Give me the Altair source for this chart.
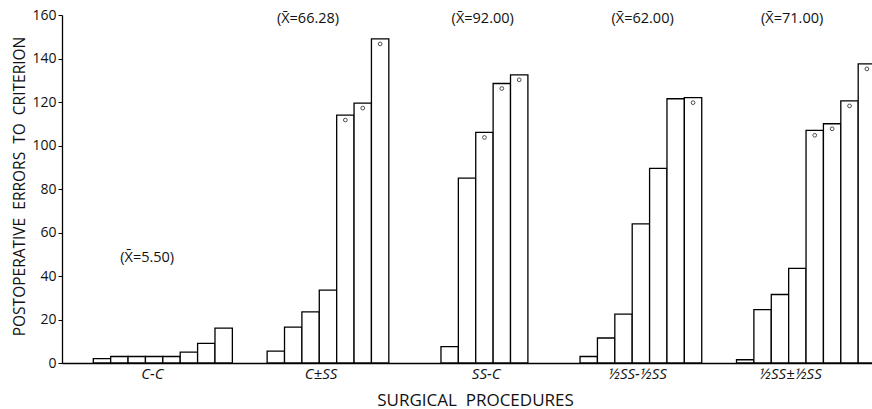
import altair as alt
import pandas as pd

# ---------------- data ----------------
groups = ["C-C", "C±SS", "SS-C", "½SS-½SS", "½SS±½SS"]
values = [
    [2, 3, 3, 3, 3, 5, 9, 16],
    [5.5, 16.5, 23.5, 33.5, 114, 119.5, 149],
    [7.5, 85, 106, 128.5, 132.5],
    [3, 11.5, 22.5, 64, 89.5, 121.5, 122],
    [1.5, 24.5, 31.5, 43.5, 107, 110, 120.5, 137.5],
]
marked = [
    [0, 0, 0, 0, 0, 0, 0, 0],
    [0, 0, 0, 0, 1, 1, 1],
    [0, 0, 1, 1, 1],
    [0, 0, 0, 0, 0, 0, 1],
    [0, 0, 0, 0, 1, 1, 1, 1],
]
mean_labels = ["(X̄=5.50)", "(X̄=66.28)", "(X̄=92.00)", "(X̄=62.00)", "(X̄=71.00)"]

# ---------------- layout (in bar-slot units) ----------------
gaps_before = [0, 2, 3, 3, 2]          # empty slots before each group
mean_label_x = [3.1, 12.35, 22.4, 31.6, 40.2]
mean_label_y = [48.5, 158, 158, 158, 158]
group_label_x = [3.4, 13.1, 22.6, 31.3, 40.1]

rows, pts = [], []
slot = 0
for g, vals, mk, gap in zip(groups, values, marked, gaps_before):
    slot += gap
    for v, m in zip(vals, mk):
        rows.append({"group": g, "x0": slot, "x1": slot + 1, "v": v, "zero": 0})
        if m:
            pts.append({"xc": slot + 0.5, "v": v})
        slot += 1
bars_df = pd.DataFrame(rows)
pts_df = pd.DataFrame(pts)
mean_df = pd.DataFrame({"t": mean_labels, "x": mean_label_x, "y": mean_label_y})
glab_df = pd.DataFrame({"t": groups, "x": group_label_x})

FONT = "Open Sans"
NB = "\u00a0"
xs = alt.Scale(domain=[-1.8, 44.794], nice=False, zero=False)
ys = alt.Scale(domain=[0, 160], nice=False, zero=True)

bars = alt.Chart(bars_df).mark_rect(
    fill="white", stroke="black", strokeWidth=1.3, clip=True
).encode(
    x=alt.X("x0:Q", scale=xs, axis=alt.Axis(
        title=f"SURGICAL{NB}{NB}PROCEDURES", labels=False, ticks=False, grid=False,
        domainColor="black", domainWidth=1.3,
        titleFont=FONT, titleFontSize=17, titleFontWeight="normal", titleColor="#111",
        titleX=413, titleY=37, titleBaseline="middle")),
    x2="x1:Q",
    y=alt.Y("v:Q", scale=ys, axis=alt.Axis(
        title=f"POSTOPERATIVE{NB}{NB}ERRORS{NB}{NB}TO{NB}{NB}CRITERION",
        values=[0, 20, 40, 60, 80, 100, 120, 140, 160],
        grid=False, tickSize=4, tickColor="black", domainColor="black", domainWidth=1.3,
        labelFont=FONT, labelFontSize=14, labelColor="#111", labelPadding=2,
        titleFont=FONT, titleFontSize=15.5, titleFontWeight="normal", titleColor="#111",
        titleX=-43, titleY=171, titleBaseline="middle", titleAngle=-90)),
    y2="zero:Q",
)

circles = alt.Chart(pts_df).mark_point(
    shape="circle", filled=False, size=14, stroke="black", strokeWidth=1, yOffset=5, clip=True
).encode(x=alt.X("xc:Q", scale=xs), y=alt.Y("v:Q", scale=ys))

means = alt.Chart(mean_df).mark_text(
    font=FONT, fontSize=14.5, color="#111", align="center", baseline="middle"
).encode(x=alt.X("x:Q", scale=xs), y=alt.Y("y:Q", scale=ys), text="t:N")

glabels = alt.Chart(glab_df).mark_text(
    font=FONT, fontSize=15, fontStyle="italic", color="#111", align="center", baseline="middle"
).encode(x=alt.X("x:Q", scale=xs), y=alt.value(359), text="t:N")

chart = alt.layer(bars, circles, means, glabels).properties(
    width=810, height=348,
    autosize=alt.AutoSizeParams(type="none"),
    padding={"left": 62, "top": 15, "right": 0, "bottom": 46},
    background="white",
).configure_view(stroke=None)

chart.save("out.html", embed_options={"renderer": "svg", "actions": False})
